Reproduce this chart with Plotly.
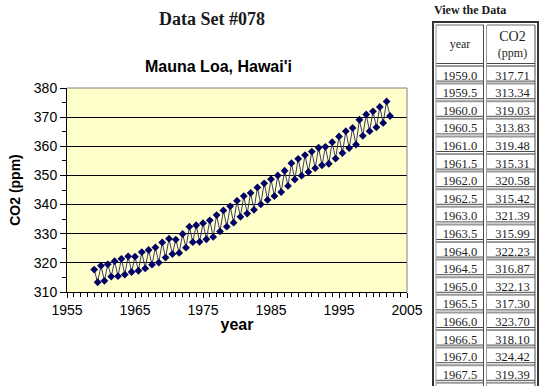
import plotly.graph_objects as go

W, H = 550, 386

years = [1959.0, 1959.5, 1960.0, 1960.5, 1961.0, 1961.5, 1962.0, 1962.5, 1963.0, 1963.5,
         1964.0, 1964.5, 1965.0, 1965.5, 1966.0, 1966.5, 1967.0, 1967.5, 1968.0, 1968.5,
         1969.0, 1969.5, 1970.0, 1970.5, 1971.0, 1971.5, 1972.0, 1972.5, 1973.0, 1973.5,
         1974.0, 1974.5, 1975.0, 1975.5, 1976.0, 1976.5, 1977.0, 1977.5, 1978.0, 1978.5,
         1979.0, 1979.5, 1980.0, 1980.5, 1981.0, 1981.5, 1982.0, 1982.5, 1983.0, 1983.5,
         1984.0, 1984.5, 1985.0, 1985.5, 1986.0, 1986.5, 1987.0, 1987.5, 1988.0, 1988.5,
         1989.0, 1989.5, 1990.0, 1990.5, 1991.0, 1991.5, 1992.0, 1992.5, 1993.0, 1993.5,
         1994.0, 1994.5, 1995.0, 1995.5, 1996.0, 1996.5, 1997.0, 1997.5, 1998.0, 1998.5,
         1999.0, 1999.5, 2000.0, 2000.5, 2001.0, 2001.5, 2002.0, 2002.5]

co2 = [317.71, 313.34, 319.03, 313.83, 319.48, 315.31, 320.58, 315.42, 321.39, 315.99,
       322.23, 316.87, 322.13, 317.30, 323.70, 318.10, 324.42, 319.39, 325.3, 320.1,
       327.0, 321.8, 328.3, 323.0, 328.0, 323.4, 329.9, 325.2, 332.4, 327.1,
       332.9, 327.2, 333.6, 328.1, 334.6, 328.9, 336.4, 330.8, 338.0, 332.4,
       339.4, 333.8, 341.3, 335.8, 342.9, 336.9, 344.0, 338.2, 345.9, 340.1,
       347.3, 341.6, 348.7, 342.9, 350.0, 344.3, 351.6, 346.4, 354.2, 348.6,
       355.7, 349.9, 357.0, 351.2, 358.2, 352.5, 359.5, 353.5, 359.8, 354.0,
       361.4, 355.8, 363.4, 357.7, 365.2, 359.4, 366.3, 360.6, 369.1, 363.6,
       370.9, 365.2, 372.0, 366.5, 373.5, 368.0, 375.4, 370.4]

x_ticks = [1955, 1965, 1975, 1985, 1995, 2005]
y_ticks = [310, 320, 330, 340, 350, 360, 370, 380]
table_header = ["year", "CO2", "(ppm)"]
table_rows = 18

SANS = "Liberation Sans"
SERIF = "Liberation Serif"

# ---- table geometry (page pixels) ----
T_LEFT, T_RIGHT, T_TOP = 433, 538, 22
COL_SPLIT = 485
ROW0, PITCH = 66, 17.6
col_centers = [(T_LEFT + COL_SPLIT) / 2 + 1, (COL_SPLIT + T_RIGHT) / 2 + 1]


def px(xp):
    return xp / W


def py(yp):
    return 1 - yp / H


fig = go.Figure()

# main chart series
fig.add_trace(go.Scatter(
    x=years, y=co2, mode="lines+markers",
    line=dict(color="#3a3a6a", width=1),
    marker=dict(symbol="diamond", size=6, color="#000066"),
    showlegend=False, hoverinfo="x+y",
))

# table text (on an axis pair whose range is in page pixels)
n = table_rows
tx, ty, tt = [], [], []
for i in range(n):
    yc = ROW0 + PITCH * i + 10.5
    tx += [col_centers[0], col_centers[1]]
    ty += [yc, yc]
    tt += [f"{years[i]:.1f}", f"{co2[i]:.2f}"]
fig.add_trace(go.Scatter(
    x=tx, y=ty, text=tt, mode="text", xaxis="x2", yaxis="y2",
    textfont=dict(family=SERIF, size=12.5, color="#1e1e1e"),
    showlegend=False, hoverinfo="skip", cliponaxis=False,
))
fig.add_trace(go.Scatter(
    x=[col_centers[0], col_centers[1], col_centers[1]], y=[45, 38, 54],
    text=[table_header[0],
          f"<span style='font-size:14px'>{table_header[1]}</span>",
          table_header[2]],
    mode="text", xaxis="x2", yaxis="y2",
    textfont=dict(family=SERIF, size=12, color="#1e1e1e"),
    showlegend=False, hoverinfo="skip", cliponaxis=False,
))

shapes = [
    # main plot background and gray top/right border
    dict(type="rect", xref="x domain", yref="y domain", x0=0, x1=1, y0=0, y1=1,
         fillcolor="#FFFFCC", line=dict(width=0), layer="below"),
    dict(type="line", xref="x domain", yref="y domain", x0=0, x1=1, y0=1, y1=1,
         line=dict(color="#808080", width=1), layer="above"),
    dict(type="line", xref="x domain", yref="y domain", x0=1, x1=1, y0=0, y1=1,
         line=dict(color="#808080", width=1), layer="above"),
]

# table borders
LG, DG = "#9a9a9a", "#4a4a4a"
boundaries = [ROW0 + PITCH * i for i in range(n + 1)]
for b in boundaries:
    for (a0, a1) in [(T_LEFT + 3, COL_SPLIT - 1), (COL_SPLIT + 2, T_RIGHT - 3)]:
        shapes.append(dict(type="line", xref="paper", yref="paper", x0=px(a0), x1=px(a1),
                           y0=py(b - 2.5), y1=py(b - 2.5), line=dict(color=DG, width=1)))
        shapes.append(dict(type="line", xref="paper", yref="paper", x0=px(a0), x1=px(a1),
                           y0=py(b), y1=py(b), line=dict(color=LG, width=2)))
# header top lines
for (a0, a1) in [(T_LEFT + 3, COL_SPLIT - 1), (COL_SPLIT + 2, T_RIGHT - 3)]:
    shapes.append(dict(type="line", xref="paper", yref="paper", x0=px(a0), x1=px(a1),
                       y0=py(T_TOP + 3), y1=py(T_TOP + 3), line=dict(color=LG, width=1.5)))
# vertical cell edges
for xv, col in [(T_LEFT + 3, LG), (COL_SPLIT - 1.5, DG), (COL_SPLIT + 1.5, LG), (T_RIGHT - 3, DG)]:
    shapes.append(dict(type="line", xref="paper", yref="paper", x0=px(xv), x1=px(xv),
                       y0=py(T_TOP + 3), y1=0, line=dict(color=col, width=1)))
# outer table border
shapes.append(dict(type="rect", xref="paper", yref="paper", x0=px(T_LEFT), x1=px(T_RIGHT),
                   y0=-0.02, y1=py(T_TOP), line=dict(color="#333333", width=2),
                   fillcolor="rgba(0,0,0,0)"))

fig.update_layout(
    width=W, height=H,
    margin=dict(l=0, r=0, t=0, b=0, pad=0),
    paper_bgcolor="white",
    plot_bgcolor="rgba(0,0,0,0)",
    showlegend=False,
    xaxis=dict(
        domain=[67 / W, 407 / W], range=[1955, 2005], automargin=False,
        tickvals=x_ticks, ticktext=[str(t) for t in x_ticks],
        ticks="outside", ticklen=5, tickcolor="black", tickwidth=1,
        showline=True, linecolor="black", linewidth=1,
        showgrid=False, zeroline=False,
        tickfont=dict(family=SANS, size=14, color="black"),
        minor=dict(dtick=1, tick0=1955, ticks="outside", ticklen=4, tickcolor="black", showgrid=False),
        title=dict(text="<b>year</b>", font=dict(family=SANS, size=16, color="black"), standoff=2),
        fixedrange=True,
    ),
    yaxis=dict(
        domain=[1 - 292 / H, 1 - 88 / H], range=[310, 380], automargin=False,
        tickvals=y_ticks, ticktext=[str(t) for t in y_ticks],
        ticks="outside", ticklen=6, tickcolor="black", tickwidth=1,
        showline=True, linecolor="black", linewidth=1,
        showgrid=True, gridcolor="black", gridwidth=1, zeroline=False,
        tickfont=dict(family=SANS, size=14, color="black"),
        minor=dict(dtick=5, tick0=310, ticks="outside", ticklen=4, tickcolor="black", showgrid=False),
        title=dict(text="<b>CO2 (ppm)</b>", font=dict(family=SANS, size=14, color="black"), standoff=9),
        fixedrange=True,
    ),
    xaxis2=dict(domain=[px(T_LEFT), px(T_RIGHT)], range=[T_LEFT, T_RIGHT], visible=False,
                fixedrange=True, automargin=False),
    yaxis2=dict(domain=[0, py(T_TOP)], range=[H, T_TOP], visible=False,
                fixedrange=True, automargin=False),
    shapes=shapes,
    annotations=[
        dict(text="<b>Data Set #078</b>", x=px(212), y=py(19), xref="paper", yref="paper",
             showarrow=False, xanchor="center", yanchor="middle",
             font=dict(family=SERIF, size=18, color="#1a1a1a")),
        dict(text="<b>Mauna Loa, Hawai'i</b>", x=px(218), y=py(67), xref="paper", yref="paper",
             showarrow=False, xanchor="center", yanchor="middle",
             font=dict(family=SANS, size=16, color="black")),
        dict(text="<b>View the Data</b>", x=px(432), y=py(10), xref="paper", yref="paper",
             showarrow=False, xanchor="left", yanchor="middle",
             font=dict(family=SERIF, size=12, color="#1a1a1a")),
    ],
)

fig.write_html("out.html", config={"displayModeBar": False},
               post_script="document.body.style.margin='0px';")
